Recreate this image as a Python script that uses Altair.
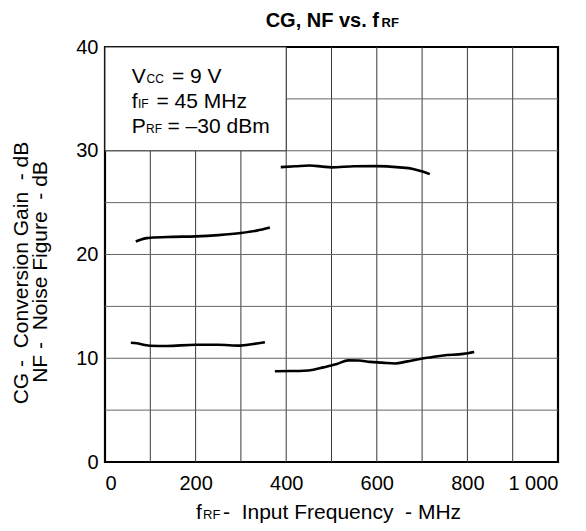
import altair as alt
import pandas as pd

FONT = "Liberation Sans"
NB = "\u00a0"

# ---- curve data ----
cg_low_f = [68, 80, 92, 100, 150, 200, 250, 300, 335, 364]
cg_low_db = [21.25, 21.45, 21.58, 21.62, 21.7, 21.75, 21.87, 22.07, 22.3, 22.6]

cg_high_f = [388, 420, 452, 480, 500, 550, 600, 650, 680, 703, 717]
cg_high_db = [28.42, 28.5, 28.58, 28.47, 28.4, 28.5, 28.52, 28.4, 28.25, 27.97, 27.75]

nf_low_f = [57, 70, 85, 100, 136, 200, 250, 298, 327, 353]
nf_low_db = [11.5, 11.45, 11.3, 11.2, 11.18, 11.3, 11.3, 11.22, 11.37, 11.55]

nf_high_f = [375, 410, 438, 460, 482, 512, 537, 560, 585, 612, 640, 668, 695, 720, 747, 791, 815]
nf_high_db = [8.75, 8.77, 8.8, 8.9, 9.12, 9.45, 9.8, 9.78, 9.65, 9.58, 9.5, 9.7, 9.93, 10.1, 10.27, 10.42, 10.6]

x_grid = [100, 200, 300, 400, 500, 600, 700, 800, 900]
y_grid = [5, 10, 15, 20, 25, 30, 35]
x_ticks = [0, 200, 400, 600, 800, 1000]
y_ticks = [0, 10, 20, 30, 40]

box_x = [0, 400]
box_y = [30, 40]

rows = []
for name, fs, ds in [("cg_low", cg_low_f, cg_low_db), ("cg_high", cg_high_f, cg_high_db),
                     ("nf_low", nf_low_f, nf_low_db), ("nf_high", nf_high_f, nf_high_db)]:
    for f, d in zip(fs, ds):
        rows.append({"seg": name, "f": f, "db": d})
curves = pd.DataFrame(rows)

xs = alt.Scale(domain=[0, 1000], nice=False, zero=False)
ys = alt.Scale(domain=[0, 40], nice=False, zero=False)

W, H = 453, 415

base_axes = alt.Chart(curves).mark_point(opacity=0).encode(
    x=alt.X("f:Q", scale=xs,
            axis=alt.Axis(values=x_ticks, grid=False, ticks=False, domain=False, title=None,
                          labelFontSize=20, labelFont=FONT, labelColor="black", labelPadding=11,
                          labelExpr="datum.value == 1000 ? '1" + NB + "000' : datum.label", format="d")),
    y=alt.Y("db:Q", scale=ys,
            axis=alt.Axis(values=y_ticks, grid=False, ticks=False, domain=False, title=None,
                          labelFontSize=20, labelFont=FONT, labelColor="black", labelPadding=7)),
)

vgrid = alt.Chart(pd.DataFrame({"g": x_grid})).mark_rule(color="#3a3a3a", strokeWidth=1).encode(
    x=alt.X("g:Q", scale=xs), y=alt.value(0), y2=alt.value(H))
hgrid = alt.Chart(pd.DataFrame({"g": y_grid})).mark_rule(color="#666666", strokeWidth=1).encode(
    y=alt.Y("g:Q", scale=ys), x=alt.value(0), x2=alt.value(W))

box = alt.Chart(pd.DataFrame({"x0": [box_x[0]], "x1": [box_x[1]], "y0": [box_y[0]], "y1": [box_y[1]]})).mark_rect(
    fill="white", stroke="#333333", strokeWidth=1).encode(
    x=alt.X("x0:Q", scale=xs), x2="x1:Q", y=alt.Y("y0:Q", scale=ys), y2="y1:Q")

lines = alt.Chart(curves).mark_line(color="black", strokeWidth=2.6, interpolate="monotone").encode(
    x=alt.X("f:Q", scale=xs), y=alt.Y("db:Q", scale=ys), detail="seg:N")


def txt(s, x, y, size=20, weight="normal", align="left", angle=0):
    kw = dict(font=FONT, fontSize=size, fontWeight=weight, align=align,
              baseline="alphabetic", color="black")
    if angle:
        kw["angle"] = angle
    return alt.Chart(alt.Data(values=[{"t": s}])).mark_text(**kw).encode(
        x=alt.value(x), y=alt.value(y), text="t:N")


texts = [
    # title
    txt("CG, NF vs. f", 274, -20, 20, "bold", "right"),
    txt("RF", 276.5, -20, 13, "bold", "left"),
    # annotation
    txt("V", 26.7, 35.7, 21), txt("CC", 41.5, 35.7, 12), txt("= 9 V", 67, 35.7, 21),
    txt("f", 26.7, 61, 21), txt("IF", 33, 61, 12), txt("= 45 MHz", 51.5, 61, 21),
    txt("P", 26.7, 86, 21), txt("RF", 41, 86, 12), txt("= \u201330 dBm", 62.5, 86, 21),
    # x title
    txt("f", 91, 472, 21), txt("RF", 98, 472, 13),
    txt("-" + NB * 2 + "Input Frequency" + NB * 2 + "- MHz", 118, 472, 21),
    # y title
    txt("CG" + NB + "-" + NB * 2 + "Conversion Gain" + NB * 2 + "-" + NB + "dB",
        -77, 226, 21, "normal", "center", 270),
    txt("NF" + NB + "-" + NB * 2 + "Noise Figure" + NB * 2 + "-" + NB + "dB",
        -58, 225, 21, "normal", "center", 270),
]

chart = alt.layer(base_axes, vgrid, hgrid, box, lines, *texts).properties(
    width=W, height=H,
    autosize=alt.AutoSizeParams(type="none"),
    padding={"left": 97, "top": 39, "right": 18, "bottom": 61},
).configure_view(stroke="black", strokeWidth=2.2)

chart.save("out.html", embed_options={"renderer": "svg", "actions": False})
